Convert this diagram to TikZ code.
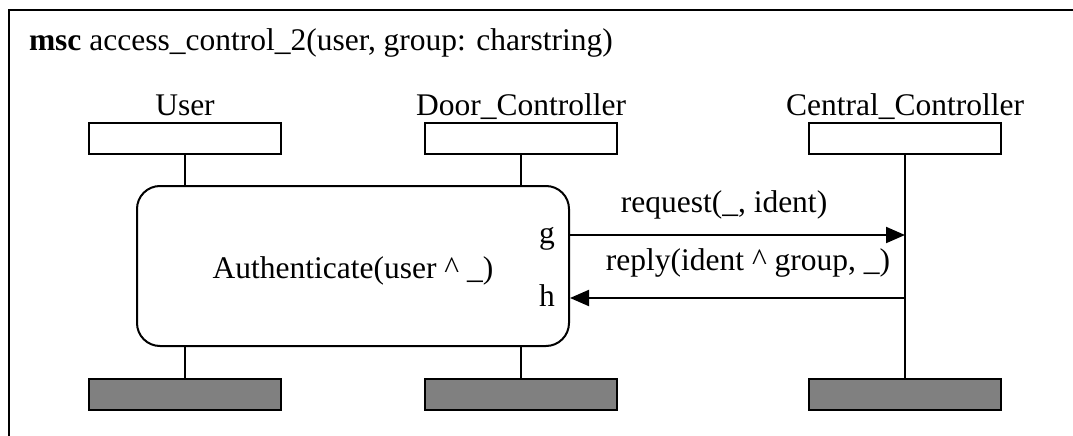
\documentclass[tikz,border=0pt]{standalone}
\usepackage{fontspec}
\setmainfont{Liberation Serif}
\usetikzlibrary{arrows.meta}
\definecolor{endgray}{HTML}{808080}
\begin{document}
\begin{tikzpicture}[x=1pt,y=-1pt,line width=2pt,
  head/.style={draw,minimum width=192pt,minimum height=31pt,inner sep=0pt},
  foot/.style={head,fill=endgray},
  lbl/.style={font=\fontsize{31.5}{36}\selectfont,anchor=base,inner sep=0pt},
  msg/.style={-{Triangle[length=19pt,width=16pt]}}]
\useasboundingbox (0,0) rectangle (1073,436);
% frame
\draw (9,436) -- (9,10) -- (1073,10);
\node[lbl,anchor=base west] (title) at (28,51) {\textbf{msc} access\_control\_2(user, group: charstring)};
% instance heads
\node[head] (u) at (185,138.5) {};
\node[head] (d) at (521,138.5) {};
\node[head] (c) at (905,138.5) {};
\node[lbl] (ulbl) at (185,115) {User};
\node[lbl] (dlbl) at (521,115) {Door\_Controller};
\node[lbl] (clbl) at (905,115) {Central\_Controller};
% instance ends
\node[foot] (ue) at (185,394.5) {};
\node[foot] (de) at (521,394.5) {};
\node[foot] (ce) at (905,394.5) {};
% reference box
\node[draw,fill=white,rounded corners=23pt,minimum width=432pt,minimum height=160pt,inner sep=0pt] (auth) at (353,266) {};
\node[lbl] (authlbl) at (353,278) {Authenticate(user \textasciicircum{} \_)};
\node[lbl] (glbl) at (547,243) {g};
\node[lbl] (hlbl) at (547,306) {h};
% lifelines
\draw (u.south) -- (u.south |- auth.north);
\draw (d.south) -- (d.south |- auth.north);
\draw (ue.north |- auth.south) -- (ue.north);
\draw (de.north |- auth.south) -- (de.north);
\draw (c.south) -- (ce.north);
% gates and messages
\path (auth.east) ++(0,-31) coordinate (g);
\path (auth.east) ++(0,32) coordinate (h);
\draw[msg] (g) -- (g -| c);
\draw[msg] (h -| c) -- (h);
\node[lbl] (reqlbl) at (724,212) {request(\_, ident)};
\node[lbl] (replbl) at (748,270) {reply(ident \textasciicircum{} group, \_)};
\end{tikzpicture}
\end{document}
